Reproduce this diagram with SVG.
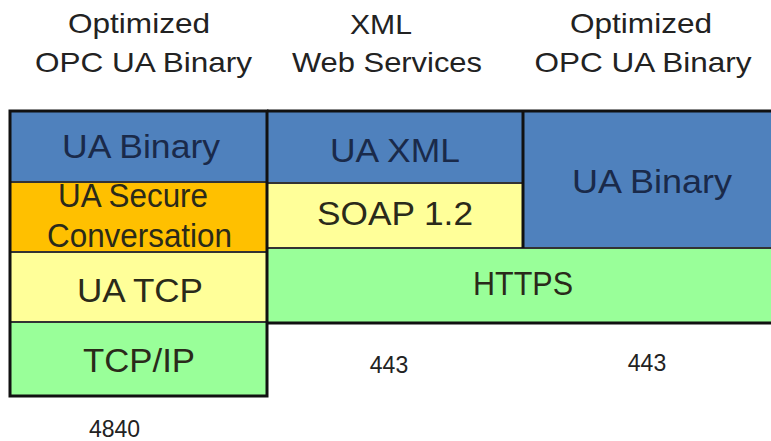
<svg xmlns="http://www.w3.org/2000/svg" width="771" height="441" viewBox="0 0 771 441">
<style>
text{font-family:"Liberation Sans",Arial,sans-serif;text-anchor:middle}
.hdr{font-size:28px;fill:#222}
.lbl{font-size:34px;fill:#2a2a1a}
.blu{font-size:34px;fill:#1a2a4a}
.num{font-size:23px;fill:#222}
.blue{fill:#4f81bd}
.org{fill:#ffc000}
.yel{fill:#ffff99}
.grn{fill:#99ff99}
.sep{stroke:#333;stroke-width:2;fill:none}
.thick{stroke:#111;stroke-width:3;fill:none}
</style>
<rect width="771" height="441" fill="#ffffff"/>
<g id="headers">
<text class="hdr" x="139" y="33" textLength="142" lengthAdjust="spacingAndGlyphs">Optimized</text>
<text class="hdr" x="143.5" y="72" textLength="217" lengthAdjust="spacingAndGlyphs">OPC UA Binary</text>
<text class="hdr" x="381" y="34" textLength="62" lengthAdjust="spacingAndGlyphs">XML</text>
<text class="hdr" x="387" y="72" textLength="190" lengthAdjust="spacingAndGlyphs">Web Services</text>
<text class="hdr" x="641" y="33" textLength="142" lengthAdjust="spacingAndGlyphs">Optimized</text>
<text class="hdr" x="643" y="72" textLength="217" lengthAdjust="spacingAndGlyphs">OPC UA Binary</text>
</g>
<g id="ua-binary-left">
<rect class="blue" x="10" y="111" width="257" height="71"/>
<text class="blu" x="141" y="158" textLength="158" lengthAdjust="spacingAndGlyphs">UA Binary</text>
</g>
<g id="ua-secure">
<rect class="org" x="10" y="182" width="257" height="70"/>
<text class="lbl" x="133" y="207" font-size="29" textLength="150" lengthAdjust="spacingAndGlyphs">UA Secure</text>
<text class="lbl" x="139.5" y="247" font-size="31" textLength="185" lengthAdjust="spacingAndGlyphs">Conversation</text>
</g>
<g id="ua-tcp">
<rect class="yel" x="10" y="252" width="257" height="70"/>
<text class="lbl" x="140" y="302" textLength="126" lengthAdjust="spacingAndGlyphs">UA TCP</text>
</g>
<g id="tcp-ip">
<rect class="grn" x="10" y="322" width="257" height="75"/>
<text class="lbl" x="139" y="372" textLength="112" lengthAdjust="spacingAndGlyphs">TCP/IP</text>
</g>
<g id="ua-xml">
<rect class="blue" x="267" y="111" width="256" height="72"/>
<text class="blu" x="395" y="162" font-size="32" textLength="130" lengthAdjust="spacingAndGlyphs">UA XML</text>
</g>
<g id="soap">
<rect class="yel" x="267" y="183" width="256" height="65"/>
<text class="lbl" x="395" y="225" textLength="156" lengthAdjust="spacingAndGlyphs">SOAP 1.2</text>
</g>
<g id="ua-binary-right">
<rect class="blue" x="523" y="111" width="248" height="137"/>
<text class="blu" x="652" y="193" textLength="160" lengthAdjust="spacingAndGlyphs">UA Binary</text>
</g>
<g id="https">
<rect class="grn" x="267" y="248" width="504" height="75"/>
<text class="lbl" x="523" y="295" font-size="29" textLength="100" lengthAdjust="spacingAndGlyphs">HTTPS</text>
</g>
<g id="connectors">
<line class="sep" x1="10" y1="182" x2="267" y2="182"/>
<line class="sep" x1="10" y1="252" x2="267" y2="252"/>
<line class="sep" x1="10" y1="322" x2="267" y2="322"/>
<line class="sep" x1="267" y1="183" x2="523" y2="183"/>
<line class="sep" x1="267" y1="248" x2="771" y2="248"/>
<line class="thick" x1="523" y1="111" x2="523" y2="248"/>
<line class="thick" x1="267" y1="111" x2="771" y2="111"/>
<line class="thick" x1="267" y1="323" x2="771" y2="323"/>
<rect class="thick" x="10" y="111" width="257" height="285"/>
</g>
<g id="ports">
<text class="num" x="389" y="373">443</text>
<text class="num" x="647" y="371">443</text>
<text class="num" x="114.5" y="437">4840</text>
</g>
</svg>
